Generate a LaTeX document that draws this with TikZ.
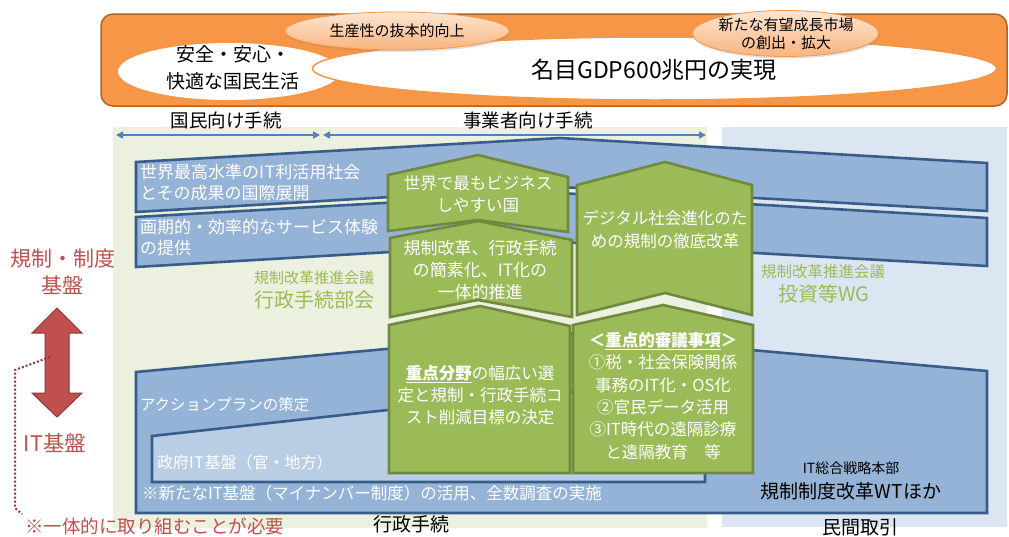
\documentclass[tikz,border=0pt]{standalone}
\usepackage{fontspec}
\setmainfont{Noto Sans CJK JP}
\usetikzlibrary{arrows.meta,shadows,shapes.geometric}
\definecolor{orfill}{HTML}{F79646}
\definecolor{orline}{HTML}{B06428}
\definecolor{peachT}{HTML}{FDE5D2}
\definecolor{peachB}{HTML}{F8B47E}
\definecolor{bandfill}{HTML}{95B3D7}
\definecolor{bandline}{HTML}{385D8A}
\definecolor{innerfill}{HTML}{B9CDE5}
\definecolor{gfill}{HTML}{9BBB59}
\definecolor{gline}{HTML}{71893F}
\definecolor{gtext}{HTML}{9BBB59}
\definecolor{lgreen}{HTML}{EBF1DE}
\definecolor{lblue}{HTML}{DCE6F2}
\definecolor{arrblue}{HTML}{4F81BD}
\definecolor{redt}{HTML}{C0504D}
\definecolor{redline}{HTML}{8C3836}
\definecolor{dotred}{HTML}{953735}
\newcommand{\fz}[2]{\fontsize{#1}{#2}\selectfont}
\newcommand{\IT}{I\kern0.8ptT\kern0.5pt}
\begin{document}
\begin{tikzpicture}[x=1pt,y=-1pt,
  every node/.style={inner sep=0pt,outer sep=0pt},
  band/.style={draw=bandline,line width=2.6pt,fill=bandfill,line join=miter},
  gbox/.style={draw=gline,line width=2.6pt,fill=gfill,line join=miter},
  wtx/.style={text=white,align=center},
  btx/.style={text=black,align=center},
  gtx/.style={text=gtext,align=center},
  rtx/.style={text=redt,align=center},
  small ell/.style={ellipse,draw=orfill,line width=0.8pt,top color=peachT,bottom color=peachB,drop shadow={opacity=0.25,shadow xshift=1pt,shadow yshift=-2pt}},
  span arrow/.style={arrblue,line width=1.6pt,{Triangle[length=7pt,width=7pt]}-{Triangle[length=7pt,width=7pt]}}
]
\useasboundingbox (0,0) rectangle (1009,536);
\fill[white] (0,0) rectangle (1009,536);

% ---------- top goal banner ----------
\draw[fill=orfill,draw=orline,line width=1.5pt,rounded corners=12pt] (101,14) rectangle (1007,106);
\fill[white] (229,71.5) ellipse [x radius=111, y radius=28.5];
\draw[fill=white,draw=orfill,line width=1.5pt] (654.5,68.5) ellipse [x radius=342, y radius=31.5];
\node[btx,font=\fz{19}{27}] (life) at (233,68) {安全・安心・\\快適な国民生活};
\node[btx,font=\fz{23}{27}] (gdp) at (654,70) {名目GDP600兆円の実現};
\path (397,31) node[small ell,minimum width=224pt,minimum height=38pt] (prod) {};
\node[btx,font=\fz{15}{18}] (prodt) at (397,31) {生産性の抜本的向上};
\path (785.5,33.5) node[small ell,minimum width=186pt,minimum height=46pt] (mkt) {};
\node[btx,font=\fz{15}{18}] (mktt) at (786,34) {新たな有望成長市場\\の創出・拡大};

% ---------- background regions ----------
\fill[lgreen] (113,127) rectangle (707,528);
\fill[lblue] (722,127) rectangle (1007,527);

\node[btx,font=\fz{18.5}{22}] (kokumin) at (226,120) {国民向け手続};
\node[btx,font=\fz{18.5}{22}] (jigyo) at (528,120) {事業者向け手続};
\coordinate (a1) at (116,135);
\coordinate (a2) at (320,135);
\coordinate (a3) at (323,135);
\coordinate (a4) at (706,135);
\draw[span arrow] (a1) -- (a2);
\draw[span arrow] (a3) -- (a4);

% ---------- upper blue bands ----------
\draw[band] (136,162) -- (560,138) -- (987,163) -- (987,211) -- (560,187) -- (136,212) -- cycle;
\draw[band] (136,217) -- (560,193) -- (987,218) -- (987,266) -- (560,242) -- (136,267) -- cycle;
\node[wtx,anchor=west,align=left,font=\fz{17}{21}] (b1) at (140,182.5) {世界最高水準の\IT 利活用社会\\とその成果の国際展開};
\node[wtx,anchor=west,align=left,font=\fz{17}{21}] (b2) at (140,238) {画期的・効率的なサービス体験\\の提供};

% ---------- lower blue bands ----------
\draw[band] (136,372) -- (560,333) -- (987,371) -- (987,513) -- (136,513) -- cycle;
\draw[band,fill=innerfill] (152,436) -- (560,391) -- (705,404) -- (705,482) -- (152,482) -- cycle;
\node[wtx,anchor=west,font=\fz{15.5}{19}] (ap) at (140,405) {アクションプランの策定};
\node[wtx,anchor=west,font=\fz{16}{19}] (gov) at (157,462) {政府\IT 基盤（官・地方）};
\node[wtx,anchor=west,font=\fz{16.5}{19}] (mynum) at (142,493) {※新たなIT基盤（マイナンバー制度）の活用、全数調査の実施};
\node[btx,font=\fz{14}{17}] (hq) at (851,468) {IT総合戦略本部};
\node[btx,font=\fz{19}{22}] (wt) at (851,491) {規制制度改革WTほか};

% ---------- green labels ----------
\node[gtx,font=\fz{15}{18}] (g1a) at (314,278) {規制改革推進会議};
\node[gtx,font=\fz{20}{24}] (g1b) at (314,300) {行政手続部会};
\node[gtx,font=\fz{15.5}{18}] (g2a) at (823,272) {規制改革推進会議};
\node[gtx,font=\fz{20}{24}] (g2b) at (824,294) {投資等WG};

% ---------- green boxes ----------
\draw[gbox] (388,175) -- (478,155) -- (568,177) -- (568,232) -- (478,220) -- (388,231) -- cycle;
\draw[gbox] (390,238) -- (478,221) -- (572,240) -- (572,317) -- (478,300) -- (390,317) -- cycle;
\draw[gbox] (577,185) -- (665,162) -- (752,185) -- (752,315) -- (665,293) -- (577,315) -- cycle;
\draw[gbox] (389,325) -- (480,306) -- (570,326) -- (570,473) -- (389,473) -- cycle;
\draw[gbox] (573,325) -- (663,305) -- (753,325) -- (753,473) -- (573,473) -- cycle;
\node[wtx,font=\fz{16.5}{22}] (gb1) at (478,194) {世界で最もビジネス\\しやすい国};
\node[wtx,font=\fz{17}{22}] (gb2) at (480,270) {規制改革、行政手続\\の簡素化、IT化の\\一体的推進};
\node[wtx,font=\fz{16.5}{22.5}] (gb3) at (665,229.5) {デジタル社会進化のた\\めの規制の徹底改革};
\node[wtx,font=\fz{16.5}{22}] (gb4) at (480,395) {\underline{\textbf{重点分野}}の幅広い選\\定と規制・行政手続コ\\スト削減目標の決定};
\node[wtx,font=\fz{16.5}{22.4}] (gb5) at (663,396) {\textbf{＜\underline{重点的審議事項}＞}\\①税・社会保険関係\\事務のIT化・OS化\\②官民データ活用\\③IT時代の遠隔診療\\と遠隔教育　等};

% ---------- bottom labels ----------
\node[btx,font=\fz{19}{22}] (gyosei) at (411,524) {行政手続};
\node[btx,font=\fz{19}{22}] (minkan) at (860,527) {民間取引};

% ---------- left side ----------
\node[rtx,font=\fz{21}{27}] (kisei) at (63,271.5) {規制・制度\\基盤};
\node[rtx,font=\fz{21.5}{25}] (itk) at (55,443) {IT基盤};
\draw[fill=redt,draw=redline,line width=1pt,line join=miter]
  (57,308) -- (82,333) -- (69,333) -- (69,393) -- (82,393) -- (57,417) -- (32,393) -- (45,393) -- (45,333) -- (32,333) -- cycle;
\coordinate (d0) at (50,357);
\coordinate (d1) at (15,370);
\coordinate (d2) at (15,508);
\coordinate (d3) at (22,514);
\draw[dotred,line width=2pt,dash pattern=on 2pt off 2pt] (d0) -- (d1) -- (d2) -- (d3);
\node[rtx,anchor=west,font=\fz{18.5}{22}] (note) at (25,526) {※一体的に取り組むことが必要};
\end{tikzpicture}
\end{document}
